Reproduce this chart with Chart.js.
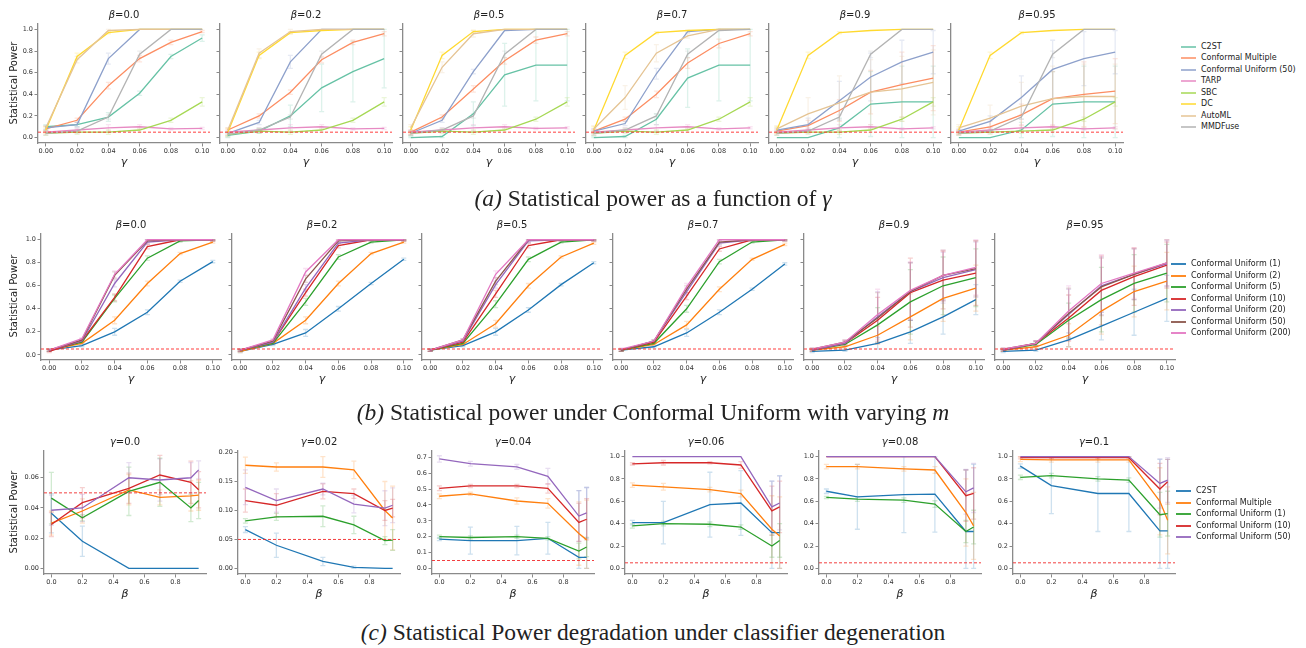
<!DOCTYPE html>
<html>
<head>
<meta charset="utf-8">
<script src="https://cdn.jsdelivr.net/npm/chart.js@4.4.1/dist/chart.umd.min.js"></script>
<style>
  body { margin: 0; background: #fff; width: 1306px; height: 648px; position: relative; overflow: hidden; font-family: "DejaVu Sans", sans-serif; color: #222; }
  canvas { position: absolute; }
  .t { position: absolute; font-size: 10px; line-height: 13px; text-align: center; white-space: nowrap; }
  .xl { position: absolute; font-size: 11px; line-height: 13px; text-align: center; font-style: italic; }
  .yl { position: absolute; font-size: 10px; line-height: 12px; white-space: nowrap; transform: translate(-50%, -50%) rotate(-90deg); }
  .cap { position: absolute; left: 0; width: 1306px; text-align: center; font-family: "Liberation Serif", serif; font-size: 23.5px; line-height: 28px; }
  .lg { position: absolute; font-size: 8px; line-height: 11px; white-space: nowrap; }
  .lg div { position: relative; height: 11.5px; padding-left: 20px; }
  .lg span { position: absolute; left: 0; top: 5px; width: 15px; height: 2px; }
</style>
</head>
<body>
<script>
// x values
const gammas = [0, 0.02, 0.04, 0.06, 0.08, 0.10];
const betas = [0.0, 0.2, 0.5, 0.7, 0.9, 0.95];
const betaTitles = ['0.0', '0.2', '0.5', '0.7', '0.9', '0.95'];
const gammaTitles = ['0.0', '0.02', '0.04', '0.06', '0.08', '0.1'];

// (a) one row per beta panel
const aC2ST = [
  [0.10, 0.12, 0.19, 0.41, 0.75, 0.92],
  [0.02, 0.06, 0.20, 0.46, 0.61, 0.73],
  [0.00, 0.01, 0.22, 0.58, 0.67, 0.67],
  [0.00, 0.01, 0.17, 0.55, 0.67, 0.67],
  [0.00, 0.00, 0.09, 0.31, 0.33, 0.33],
  [0.00, 0.00, 0.07, 0.31, 0.33, 0.33]];
const aCM = [
  [0.08, 0.16, 0.48, 0.73, 0.88, 0.98],
  [0.07, 0.20, 0.42, 0.72, 0.88, 0.96],
  [0.05, 0.19, 0.45, 0.71, 0.90, 0.96],
  [0.06, 0.17, 0.40, 0.69, 0.87, 0.96],
  [0.06, 0.11, 0.25, 0.42, 0.49, 0.55],
  [0.05, 0.10, 0.21, 0.36, 0.40, 0.43]];
const aCU50 = [
  [0.09, 0.12, 0.73, 1.00, 1.00, 1.00],
  [0.04, 0.14, 0.70, 1.00, 1.00, 1.00],
  [0.04, 0.16, 0.61, 0.99, 1.00, 1.00],
  [0.06, 0.13, 0.59, 0.98, 1.00, 1.00],
  [0.07, 0.12, 0.34, 0.56, 0.70, 0.79],
  [0.06, 0.15, 0.37, 0.63, 0.73, 0.79]];
const aTARP = [
  [0.05, 0.07, 0.09, 0.10, 0.08, 0.085],
  [0.05, 0.07, 0.09, 0.10, 0.08, 0.085],
  [0.05, 0.07, 0.09, 0.10, 0.085, 0.09],
  [0.05, 0.07, 0.09, 0.10, 0.08, 0.09],
  [0.05, 0.07, 0.09, 0.10, 0.08, 0.09],
  [0.05, 0.07, 0.09, 0.10, 0.08, 0.09]];
const aSBC = [
  [0.04, 0.05, 0.05, 0.07, 0.16, 0.33],
  [0.03, 0.06, 0.05, 0.07, 0.16, 0.33],
  [0.04, 0.06, 0.05, 0.07, 0.17, 0.33],
  [0.04, 0.06, 0.05, 0.07, 0.17, 0.33],
  [0.04, 0.05, 0.05, 0.07, 0.17, 0.33],
  [0.04, 0.05, 0.06, 0.07, 0.17, 0.33]];
const aDC = [
  [0.07, 0.75, 0.97, 1.00, 1.00, 1.00],
  [0.05, 0.76, 0.97, 0.99, 1.00, 1.00],
  [0.07, 0.76, 0.98, 1.00, 1.00, 1.00],
  [0.07, 0.76, 0.97, 0.99, 1.00, 1.00],
  [0.07, 0.76, 0.97, 0.99, 1.00, 1.00],
  [0.07, 0.76, 0.97, 0.99, 1.00, 1.00]];
const aAutoML = [
  [0.09, 0.72, 0.99, 1.00, 1.00, 1.00],
  [0.07, 0.78, 0.98, 1.00, 1.00, 1.00],
  [0.09, 0.65, 0.96, 1.00, 1.00, 1.00],
  [0.08, 0.37, 0.78, 0.94, 1.00, 1.00],
  [0.08, 0.22, 0.32, 0.42, 0.45, 0.51],
  [0.09, 0.18, 0.29, 0.36, 0.38, 0.38]];
const aMMD = [
  [0.04, 0.06, 0.19, 0.77, 1.00, 1.00],
  [0.03, 0.07, 0.19, 0.77, 1.00, 1.00],
  [0.04, 0.07, 0.20, 0.77, 1.00, 1.00],
  [0.04, 0.07, 0.20, 0.77, 0.99, 1.00],
  [0.04, 0.06, 0.19, 0.77, 1.00, 1.00],
  [0.04, 0.06, 0.19, 0.77, 1.00, 1.00]];
// (a) error bar half widths
const aC2STErr = [
  [0.02, 0.02, 0.04, 0.02, 0.02, 0.03],
  [0.02, 0.02, 0.10, 0.22, 0.28, 0.27],
  [0.01, 0.01, 0.11, 0.29, 0.33, 0.33],
  [0.01, 0.01, 0.05, 0.27, 0.33, 0.33],
  [0.00, 0.00, 0.09, 0.30, 0.33, 0.33],
  [0.00, 0.00, 0.07, 0.30, 0.33, 0.33]];
const aCMErr = [
  [0.02, 0.02, 0.03, 0.03, 0.02, 0.01],
  [0.02, 0.02, 0.02, 0.03, 0.02, 0.02],
  [0.02, 0.02, 0.03, 0.03, 0.03, 0.02],
  [0.02, 0.02, 0.03, 0.05, 0.04, 0.02],
  [0.02, 0.05, 0.10, 0.20, 0.30, 0.30],
  [0.02, 0.05, 0.10, 0.25, 0.30, 0.30]];
const aCU50Err = [
  [0.02, 0.02, 0.05, 0.00, 0.00, 0.00],
  [0.02, 0.02, 0.06, 0.00, 0.00, 0.00],
  [0.02, 0.02, 0.02, 0.00, 0.00, 0.00],
  [0.02, 0.02, 0.05, 0.01, 0.00, 0.00],
  [0.02, 0.06, 0.18, 0.22, 0.20, 0.20],
  [0.02, 0.05, 0.20, 0.27, 0.25, 0.20]];
const aTARPErr = [0.02, 0.02, 0.03, 0.02, 0.01, 0.01];
const aSBCErr = [0.02, 0.02, 0.02, 0.02, 0.02, 0.04];
const aDCErr = [0.03, 0.03, 0.01, 0.00, 0.00, 0.00];
const aAutoMLErr = [
  [0.02, 0.03, 0.02, 0.00, 0.00, 0.00],
  [0.02, 0.04, 0.02, 0.00, 0.00, 0.00],
  [0.03, 0.05, 0.03, 0.00, 0.00, 0.00],
  [0.03, 0.11, 0.08, 0.02, 0.00, 0.00],
  [0.03, 0.15, 0.25, 0.30, 0.30, 0.30],
  [0.03, 0.12, 0.22, 0.30, 0.30, 0.30]];
const aMMDErr = [0.02, 0.02, 0.02, 0.03, 0.00, 0.00];

// (b) Conformal Uniform with m = 1..200
const bCU1 = [
  [0.04, 0.08, 0.20, 0.37, 0.64, 0.81],
  [0.03, 0.09, 0.19, 0.40, 0.62, 0.83],
  [0.04, 0.08, 0.20, 0.39, 0.61, 0.80],
  [0.04, 0.07, 0.19, 0.37, 0.57, 0.79],
  [0.03, 0.04, 0.10, 0.20, 0.33, 0.48],
  [0.03, 0.04, 0.13, 0.25, 0.37, 0.49]];
const bCU2 = [
  [0.04, 0.10, 0.30, 0.62, 0.88, 0.98],
  [0.03, 0.10, 0.30, 0.62, 0.88, 0.98],
  [0.04, 0.09, 0.27, 0.60, 0.85, 0.97],
  [0.04, 0.09, 0.26, 0.57, 0.83, 0.96],
  [0.04, 0.07, 0.17, 0.33, 0.49, 0.58],
  [0.04, 0.07, 0.17, 0.38, 0.55, 0.64]];
const bCU5 = [
  [0.04, 0.11, 0.49, 0.84, 0.99, 1.00],
  [0.04, 0.10, 0.46, 0.85, 0.98, 1.00],
  [0.04, 0.10, 0.44, 0.83, 0.98, 1.00],
  [0.04, 0.10, 0.40, 0.81, 0.98, 1.00],
  [0.04, 0.09, 0.26, 0.46, 0.60, 0.67],
  [0.04, 0.09, 0.30, 0.48, 0.62, 0.71]];
const bCU10 = [
  [0.03, 0.12, 0.50, 0.94, 1.00, 1.00],
  [0.04, 0.11, 0.54, 0.95, 1.00, 1.00],
  [0.04, 0.11, 0.53, 0.95, 1.00, 1.00],
  [0.04, 0.11, 0.51, 0.92, 1.00, 1.00],
  [0.04, 0.10, 0.30, 0.54, 0.65, 0.71],
  [0.04, 0.10, 0.32, 0.56, 0.68, 0.78]];
const bCU20 = [
  [0.04, 0.12, 0.62, 0.98, 1.00, 1.00],
  [0.04, 0.11, 0.58, 0.97, 1.00, 1.00],
  [0.04, 0.12, 0.61, 0.99, 1.00, 1.00],
  [0.04, 0.12, 0.55, 0.97, 1.00, 1.00],
  [0.04, 0.10, 0.33, 0.55, 0.67, 0.74],
  [0.04, 0.10, 0.35, 0.60, 0.70, 0.79]];
const bCU50 = [
  [0.04, 0.13, 0.69, 0.99, 1.00, 1.00],
  [0.04, 0.12, 0.66, 0.99, 1.00, 1.00],
  [0.04, 0.13, 0.64, 1.00, 1.00, 1.00],
  [0.04, 0.12, 0.57, 0.98, 1.00, 1.00],
  [0.05, 0.11, 0.32, 0.55, 0.69, 0.75],
  [0.05, 0.10, 0.36, 0.59, 0.70, 0.80]];
const bCU200 = [
  [0.04, 0.14, 0.70, 1.00, 1.00, 1.00],
  [0.04, 0.13, 0.72, 1.00, 1.00, 1.00],
  [0.04, 0.13, 0.70, 1.00, 1.00, 1.00],
  [0.05, 0.12, 0.59, 1.00, 1.00, 1.00],
  [0.05, 0.11, 0.35, 0.56, 0.69, 0.76],
  [0.05, 0.10, 0.38, 0.62, 0.71, 0.80]];
// (b) error half widths: panels 1-4 share one row, panels 5-6 own rows
const bErrLow = [0.01, 0.01, 0.03, 0.02, 0.01, 0.01];
const bCU1Err = [[0.01, 0.01, 0.05, 0.10, 0.15, 0.13], [0.01, 0.01, 0.06, 0.12, 0.20, 0.20]];
const bCU2Err = [[0.01, 0.02, 0.08, 0.20, 0.20, 0.20], [0.01, 0.02, 0.10, 0.20, 0.22, 0.25]];
const bCU5Err = [[0.01, 0.02, 0.15, 0.28, 0.25, 0.25], [0.01, 0.02, 0.15, 0.28, 0.25, 0.25]];
const bCU10Err = [[0.01, 0.02, 0.20, 0.30, 0.25, 0.28], [0.01, 0.02, 0.20, 0.30, 0.25, 0.20]];
const bCUHiErr = [[0.01, 0.02, 0.22, 0.25, 0.22, 0.24], [0.01, 0.02, 0.22, 0.25, 0.22, 0.20]];

// (c) one row per gamma panel, x = beta
const cC2ST = [
  [0.0365, 0.018, 0, 0, 0, 0],
  [0.067, 0.040, 0.012, 0.002, 0, 0],
  [0.185, 0.175, 0.175, 0.19, 0.07, 0.07],
  [0.41, 0.41, 0.57, 0.585, 0.32, 0.32],
  [0.69, 0.64, 0.66, 0.665, 0.33, 0.33],
  [0.915, 0.74, 0.67, 0.67, 0.335, 0.335]];
const cCM = [
  [0.030, 0.038, 0.052, 0.047, 0.048, 0.0485],
  [0.178, 0.175, 0.175, 0.170, 0.10, 0.087],
  [0.455, 0.47, 0.425, 0.41, 0.22, 0.18],
  [0.745, 0.73, 0.705, 0.67, 0.35, 0.29],
  [0.91, 0.91, 0.89, 0.88, 0.50, 0.38],
  [0.975, 0.97, 0.97, 0.97, 0.60, 0.43]];
const cCU1 = [
  [0.0465, 0.0335, 0.051, 0.057, 0.040, 0.045],
  [0.082, 0.089, 0.090, 0.075, 0.048, 0.049],
  [0.20, 0.195, 0.20, 0.19, 0.11, 0.135],
  [0.38, 0.40, 0.395, 0.37, 0.20, 0.25],
  [0.635, 0.62, 0.61, 0.575, 0.33, 0.37],
  [0.815, 0.83, 0.80, 0.79, 0.48, 0.49]];
const cCU10 = [
  [0.029, 0.0435, 0.053, 0.0618, 0.057, 0.052],
  [0.117, 0.109, 0.133, 0.129, 0.100, 0.104],
  [0.505, 0.52, 0.52, 0.505, 0.29, 0.31],
  [0.935, 0.945, 0.945, 0.925, 0.515, 0.55],
  [1.0, 1.0, 1.0, 1.0, 0.65, 0.67],
  [0.99, 0.99, 0.99, 0.99, 0.71, 0.775]];
const cCU50 = [
  [0.0385, 0.040, 0.060, 0.0585, 0.060, 0.0652],
  [0.140, 0.117, 0.137, 0.111, 0.104, 0.109],
  [0.69, 0.66, 0.64, 0.58, 0.33, 0.35],
  [1.0, 1.0, 1.0, 1.0, 0.55, 0.585],
  [1.0, 1.0, 1.0, 1.0, 0.685, 0.72],
  [1.0, 1.0, 1.0, 1.0, 0.76, 0.79]];
const cC2STErr = [
  [0.013, 0.010, 0, 0, 0, 0],
  [0.005, 0.021, 0.007, 0.002, 0, 0],
  [0.01, 0.085, 0.09, 0.10, 0.42, 0.44],
  [0.02, 0.19, 0.29, 0.29, 0.46, 0.51],
  [0.02, 0.29, 0.34, 0.34, 0.55, 0.60],
  [0.02, 0.25, 0.34, 0.34, 0.64, 0.64]];
const cCMErr = [
  [0.008, 0.008, 0.01, 0.005, 0.01, 0.01],
  [0.014, 0.007, 0.018, 0.015, 0.05, 0.055],
  [0.015, 0.01, 0.02, 0.03, 0.20, 0.25],
  [0.02, 0.03, 0.02, 0.03, 0.30, 0.35],
  [0.02, 0.02, 0.02, 0.03, 0.30, 0.30],
  [0.02, 0.02, 0.02, 0.02, 0.30, 0.30]];
const cCU1Err = [
  [0.017, 0.002, 0.016, 0.016, 0.009, 0.012],
  [0.004, 0.006, 0.018, 0.015, 0.007, 0.018],
  [0.01, 0.01, 0.01, 0.01, 0.05, 0.06],
  [0.02, 0.02, 0.02, 0.02, 0.10, 0.15],
  [0.01, 0.02, 0.02, 0.03, 0.10, 0.15],
  [0.02, 0.02, 0.02, 0.02, 0.20, 0.20]];
const cCU10Err = [
  [0.008, 0.01, 0.01, 0.013, 0.014, 0.012],
  [0.02, 0.02, 0.013, 0.008, 0.017, 0.015],
  [0.015, 0.01, 0.01, 0.03, 0.12, 0.13],
  [0.01, 0.02, 0.01, 0.03, 0.22, 0.23],
  [0, 0, 0, 0, 0.23, 0.23],
  [0.01, 0.01, 0.01, 0.01, 0.23, 0.20]];
const cCU50Err = [
  [0.01, 0.009, 0.01, 0.014, 0.01, 0.006],
  [0.03, 0.02, 0.01, 0.015, 0.03, 0.03],
  [0.02, 0.015, 0.015, 0.05, 0.16, 0.16],
  [0, 0, 0, 0, 0.23, 0.24],
  [0, 0, 0, 0, 0.20, 0.22],
  [0, 0, 0, 0, 0.22, 0.20]];

// tick labels
const xTicksAB = [0, 0.02, 0.04, 0.06, 0.08, 0.10];
const xTicksC = [0, 0.2, 0.4, 0.6, 0.8];
const yTicksUnit = [0, 0.2, 0.4, 0.6, 0.8, 1.0];
const yTicksC = [[0, 0.02, 0.04, 0.06], [0, 0.05, 0.10, 0.15, 0.20], [0, 0.1, 0.2, 0.3, 0.4, 0.5, 0.6, 0.7], yTicksUnit, yTicksUnit, yTicksUnit];
const yRangeC = [[-0.0037, 0.0777], [-0.0096, 0.2026], [-0.035, 0.74], [-0.05, 1.05], [-0.05, 1.05], [-0.05, 1.05]];

const namesA = ['C2ST', 'Conformal Multiple', 'Conformal Uniform (50)', 'TARP', 'SBC', 'DC', 'AutoML', 'MMDFuse'];
const colorsA = ['#66c2a5', '#fc8d62', '#8da0cb', '#e78ac3', '#a6d854', '#ffd92f', '#e5c494', '#b3b3b3'];
const namesB = ['Conformal Uniform (1)', 'Conformal Uniform (2)', 'Conformal Uniform (5)', 'Conformal Uniform (10)', 'Conformal Uniform (20)', 'Conformal Uniform (50)', 'Conformal Uniform (200)'];
const colorsB = ['#1f77b4', '#ff7f0e', '#2ca02c', '#d62728', '#9467bd', '#8c564b', '#e377c2'];
const namesC = ['C2ST', 'Conformal Multiple', 'Conformal Uniform (1)', 'Conformal Uniform (10)', 'Conformal Uniform (50)'];
const colorsC = colorsB.slice(0, 5);

function rgba(hex, a) {
  const n = parseInt(hex.slice(1), 16);
  return 'rgba(' + (n >> 16) + ',' + ((n >> 8) & 255) + ',' + (n & 255) + ',' + a + ')';
}

const errBars = {
  id: 'errBars',
  beforeDatasetsDraw(chart, args, opts) {
    const ctx = chart.ctx, xs = chart.scales.x, ys = chart.scales.y;
    ctx.save();
    chart.data.datasets.forEach((ds) => {
      if (!ds.err) return;
      ctx.strokeStyle = rgba(ds.borderColor, 0.22);
      ctx.lineWidth = 1.3;
      ds.data.forEach((p, j) => {
        const e = ds.err[j];
        if (!e) return;
        const x = xs.getPixelForValue(p.x);
        const y0 = ys.getPixelForValue(Math.max(0, p.y - e));
        const y1 = ys.getPixelForValue(Math.min(1, p.y + e));
        ctx.beginPath();
        ctx.moveTo(x, y0); ctx.lineTo(x, y1);
        ctx.moveTo(x - opts.cap, y0); ctx.lineTo(x + opts.cap, y0);
        ctx.moveTo(x - opts.cap, y1); ctx.lineTo(x + opts.cap, y1);
        ctx.stroke();
      });
    });
    ctx.restore();
  }
};

const refLine = {
  id: 'refLine',
  afterDatasetsDraw(chart, args, opts) {
    const { ctx, chartArea, scales } = chart;
    const y = scales.y.getPixelForValue(opts.value);
    ctx.save();
    ctx.strokeStyle = opts.color;
    ctx.lineWidth = opts.width;
    ctx.setLineDash([3, 2]);
    ctx.beginPath();
    ctx.moveTo(chartArea.left, y);
    ctx.lineTo(chartArea.right, y);
    ctx.stroke();
    ctx.restore();
  }
};

function addDiv(cls, html, style) {
  const d = document.createElement('div');
  d.className = cls;
  d.innerHTML = html;
  Object.assign(d.style, style);
  document.body.appendChild(d);
  return d;
}

function makePanel(p) {
  const YW = 30, PT = 8, PR = 12, XH = 14;
  const cv = document.createElement('canvas');
  const left = Math.round(p.left - YW);
  cv.width = Math.round(YW + p.w + PR);
  cv.height = Math.round(PT + p.h + XH);
  cv.style.left = left + 'px';
  cv.style.top = Math.round(p.top - PT) + 'px';
  document.body.appendChild(cv);

  const tickFont = { family: 'DejaVu Sans', size: 6.5 };
  const n = p.series.length;
  const datasets = p.series.map((s, i) => ({
    data: p.xs.map((x, j) => ({ x: x, y: s.values[j] })),
    err: s.err,
    borderColor: s.color,
    borderWidth: 1.3,
    pointRadius: 0,
    tension: 0,
    fill: false,
    order: n - 1 - i
  }));

  new Chart(cv, {
    type: 'line',
    data: { datasets: datasets },
    plugins: [errBars, refLine],
    options: {
      responsive: false,
      animation: false,
      devicePixelRatio: 1,
      layout: { padding: { top: PT, right: PR, left: 0, bottom: 0 } },
      plugins: {
        legend: { display: false },
        tooltip: { enabled: false },
        errBars: { cap: p.cap },
        refLine: { value: 0.05, color: p.refColor, width: p.refWidth }
      },
      scales: {
        x: {
          type: 'linear',
          min: p.xmin, max: p.xmax,
          afterBuildTicks: (ax) => { ax.ticks = p.xticks.map((v) => ({ value: v })); },
          afterFit: (ax) => { ax.height = XH; },
          ticks: { callback: (v) => v.toFixed(p.xdec), font: tickFont, color: '#333', padding: 1, maxRotation: 0, autoSkip: false },
          grid: { drawOnChartArea: false, drawTicks: true, tickLength: 3.5, color: '#8a8a8a' },
          border: { display: true, color: '#8a8a8a', width: 1.3 }
        },
        y: {
          type: 'linear',
          min: p.ymin, max: p.ymax,
          afterBuildTicks: (ax) => { ax.ticks = p.yticks.map((v) => ({ value: v })); },
          afterFit: (ax) => { ax.width = YW; },
          ticks: { callback: (v) => (p.showY ? v.toFixed(p.ydec) : ''), font: tickFont, color: '#333', padding: 1.5, autoSkip: false },
          grid: { drawOnChartArea: false, drawTicks: true, tickLength: 3.5, color: '#8a8a8a' },
          border: { display: true, color: '#8a8a8a', width: 1.3 }
        }
      }
    }
  });

  const plotLeft = left + YW;
  addDiv('t', p.title, { left: plotLeft + 'px', width: p.w + 'px', top: (p.top - 16) + 'px' });
  addDiv('xl', p.xlabel, { left: plotLeft + 'px', width: p.w + 'px', top: (p.top + p.h + 13) + 'px' });
}

function errOf(e, i) {
  return Array.isArray(e[0]) ? e[i] : e;
}

// row (a)
const seriesA = [aC2ST, aCM, aCU50, aTARP, aSBC, aDC, aAutoML, aMMD];
const errA = [aC2STErr, aCMErr, aCU50Err, aTARPErr, aSBCErr, aDCErr, aAutoMLErr, aMMDErr];
for (let i = 0; i < 6; i++) {
  makePanel({
    left: 37.5 + i * 182.75, top: 23.6, w: 172, h: 118.8,
    xmin: -0.005, xmax: 0.105, ymin: -0.05, ymax: 1.05,
    xticks: xTicksAB, xdec: 2, yticks: yTicksUnit, ydec: 1, showY: i === 0,
    xs: gammas, cap: 2.5, refColor: 'rgba(255,40,40,0.6)', refWidth: 1.4,
    series: seriesA.map((s, k) => ({ values: s[i], err: errOf(errA[k], i), color: colorsA[k] })),
    title: '<i>β</i>=' + betaTitles[i], xlabel: 'γ'
  });
}

// row (b)
const seriesB = [bCU1, bCU2, bCU5, bCU10, bCU20, bCU50, bCU200];
const errB = [bCU1Err, bCU2Err, bCU5Err, bCU10Err, bCUHiErr, bCUHiErr, bCUHiErr];
for (let i = 0; i < 6; i++) {
  makePanel({
    left: 40.85 + i * 190.8, top: 233.5, w: 180, h: 125.9,
    xmin: -0.005, xmax: 0.105, ymin: -0.045, ymax: 1.05,
    xticks: xTicksAB, xdec: 2, yticks: yTicksUnit, ydec: 1, showY: i === 0,
    xs: gammas, cap: 2.5, refColor: 'rgba(255,40,40,0.6)', refWidth: 1.4,
    series: seriesB.map((s, k) => ({ values: s[i], err: i < 4 ? bErrLow : errB[k][i - 4], color: colorsB[k] })),
    title: '<i>β</i>=' + betaTitles[i], xlabel: 'γ'
  });
}

// row (c)
const seriesC = [cC2ST, cCM, cCU1, cCU10, cCU50];
const errC = [cC2STErr, cCMErr, cCU1Err, cCU10Err, cCU50Err];
const leftsC = [44.2, 237.6, 431.7, 625, 819.3, 1012.6];
const decC = [2, 2, 1, 1, 1, 1];
for (let i = 0; i < 6; i++) {
  makePanel({
    left: leftsC[i], top: 451, w: 162, h: 123,
    xmin: -0.0475, xmax: 0.9975, ymin: yRangeC[i][0], ymax: yRangeC[i][1],
    xticks: xTicksC, xdec: 1, yticks: yTicksC[i], ydec: decC[i], showY: true,
    xs: betas, cap: 2.5, refColor: 'rgba(240,30,30,0.85)', refWidth: 1,
    series: seriesC.map((s, k) => ({ values: s[i], err: errC[k][i], color: colorsC[k] })),
    title: '<i>γ</i>=' + gammaTitles[i], xlabel: 'β'
  });
}

// axis titles
[83, 296, 512].forEach((y) => addDiv('yl', 'Statistical Power', { left: '14px', top: y + 'px' }));

// legends
function legend(names, colors, left, top, alpha) {
  const html = names.map((nm, k) => '<div><span style="background:' + rgba(colors[k], alpha) + '"></span>' + nm + '</div>').join('');
  addDiv('lg', html, { left: left + 'px', top: top + 'px' });
}
legend(namesA, colorsA, 1181, 40.5, 0.75);
legend(namesB, colorsB, 1171, 258, 0.9);
legend(namesC, colorsC, 1176, 485, 0.9);

// captions
addDiv('cap', '<i>(a)</i> Statistical power as a function of <i>γ</i>', { top: '184px' });
addDiv('cap', '<i>(b)</i> Statistical power under Conformal Uniform with varying <i>m</i>', { top: '398px' });
addDiv('cap', '<i>(c)</i> Statistical Power degradation under classifier degeneration', { top: '618px' });
</script>
</body>
</html>
